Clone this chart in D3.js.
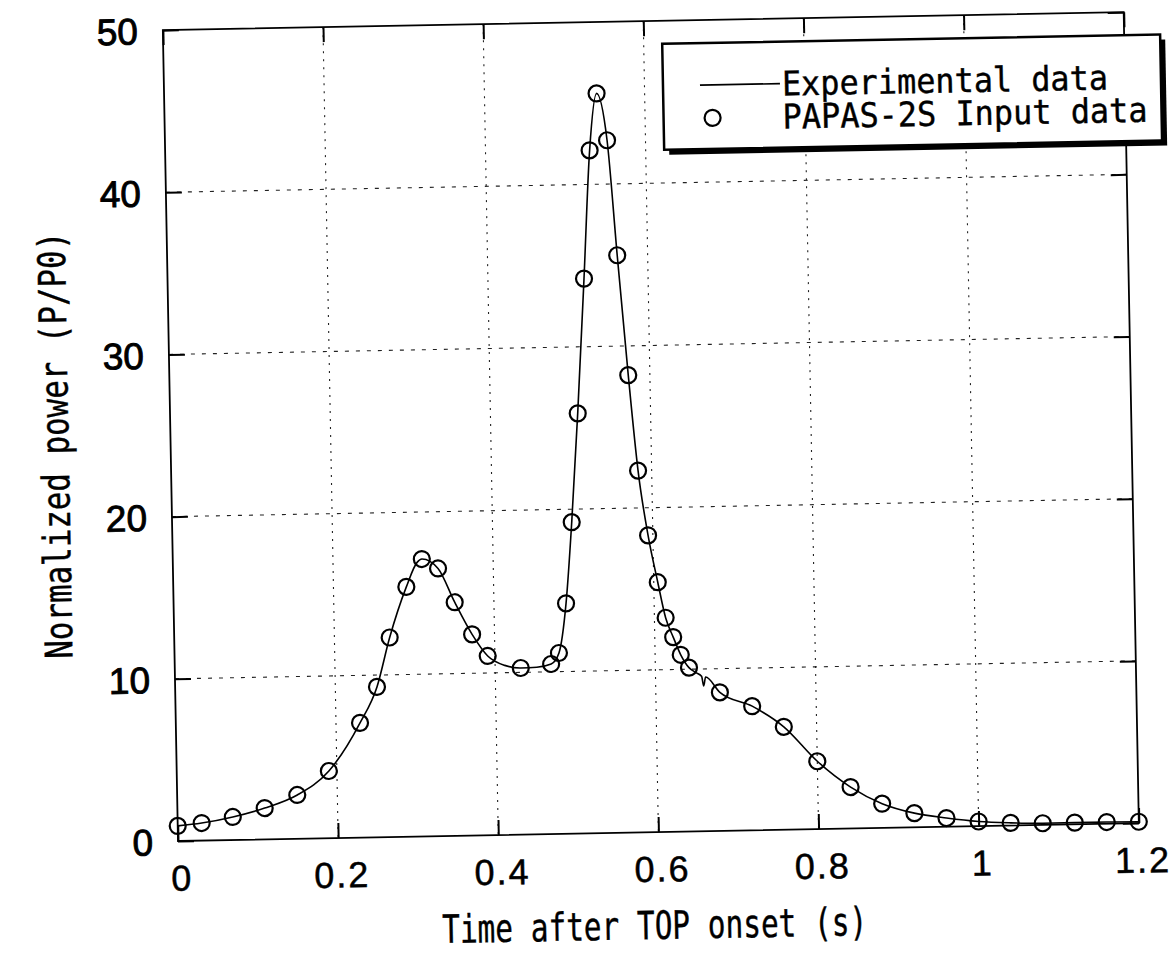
<!DOCTYPE html>
<html>
<head>
<meta charset="utf-8">
<script src="https://cdn.jsdelivr.net/npm/d3@7"></script>
<style>
  html, body { margin: 0; padding: 0; background: #fff; }
  svg { display: block; }
</style>
</head>
<body>
<svg id="chart" width="1173" height="974"></svg>
<script>
// ---------------- data ----------------
const xTicks = [0, 0.2, 0.4, 0.6, 0.8, 1.0, 1.2];
const xTickLabels = ["0", "0.2", "0.4", "0.6", "0.8", "1", "1.2"];
const yTicks = [0, 10, 20, 30, 40, 50];
const yTickLabels = ["0", "10", "20", "30", "40", "50"];

// PAPAS-2S input data (circles)
const inputT = [0, 0.030, 0.069, 0.109, 0.150, 0.190, 0.230, 0.252, 0.269, 0.291, 0.311, 0.331, 0.351, 0.372, 0.391,
  0.432, 0.470, 0.480, 0.490, 0.499, 0.509, 0.520, 0.530, 0.540, 0.552, 0.562, 0.573, 0.583, 0.594, 0.605, 0.614,
  0.623, 0.632, 0.642, 0.680, 0.720, 0.759, 0.800, 0.841, 0.880, 0.920, 0.960, 1.000, 1.040, 1.080, 1.120, 1.160, 1.200];
const inputP = [0.93, 1.08, 1.42, 1.93, 2.70, 4.14, 7.07, 9.27, 12.3, 15.4, 17.1, 16.5, 14.4, 12.4, 11.05,
  10.27, 10.48, 11.15, 14.2, 19.2, 25.9, 34.2, 42.1, 45.6, 42.7, 35.6, 28.2, 22.3, 18.3, 15.4, 13.2,
  12.0, 10.9, 10.1, 8.54, 7.65, 6.34, 4.18, 2.55, 1.49, 0.87, 0.53, 0.28, 0.16, 0.10, 0.10, 0.10, 0.08];

// Experimental data (solid line)
const expT = [0, 0.030, 0.069, 0.109, 0.150, 0.190, 0.230, 0.252, 0.269, 0.291, 0.305, 0.311, 0.331, 0.351, 0.372, 0.391,
  0.412, 0.432, 0.452, 0.470, 0.480, 0.490, 0.499, 0.509, 0.520, 0.530, 0.540, 0.552, 0.562, 0.573, 0.583, 0.594, 0.605, 0.614,
  0.623, 0.632, 0.642, 0.650, 0.6575, 0.660, 0.6625, 0.680, 0.720, 0.759, 0.800, 0.841, 0.880, 0.920, 0.960, 1.000, 1.040,
  1.080, 1.120, 1.160, 1.200];
const expP = [0.93, 1.08, 1.42, 1.93, 2.70, 4.14, 7.07, 9.27, 12.3, 15.4, 16.9, 17.1, 16.5, 14.4, 12.4, 11.05,
  10.45, 10.27, 10.30, 10.48, 11.15, 14.2, 19.2, 25.9, 34.2, 42.1, 45.6, 42.7, 35.6, 28.2, 22.3, 18.3, 15.4, 13.2,
  12.0, 10.9, 10.1, 9.8, 9.55, 8.95, 9.5, 8.54, 7.65, 6.34, 4.18, 2.55, 1.49, 0.87, 0.53, 0.28, 0.16,
  0.10, 0.10, 0.10, 0.08];

const legendLabels = ["Experimental data", "PAPAS-2S Input data"];
const xTitle = "Time after TOP onset (s)";
const yTitle = "Normalized power (P/P0)";

// ---------------- layout ----------------
const L = 178, B = 841, W = 961, H = 811, T = B - H;
const tilt = -1.07;  // scanned page is slightly rotated

const svg = d3.select("#chart");
svg.append("rect").attr("width", 1173).attr("height", 974).attr("fill", "#fff");
const root = svg.append("g").attr("transform", `rotate(${tilt},${L},${B})`);

const x = d3.scaleLinear().domain([0, 1.2]).range([L, L + W]);
const y = d3.scaleLinear().domain([0, 50]).range([B, T]);

// grid lines
const grid = root.append("g").attr("stroke", "#222").attr("stroke-width", 1.1).attr("fill", "none");
grid.selectAll("line.v").data(xTicks.slice(1, -1)).join("line")
  .attr("x1", d => x(d)).attr("x2", d => x(d)).attr("y1", T).attr("y2", B)
  .attr("stroke-dasharray", "2,6");
grid.selectAll("line.h").data(yTicks.slice(1, -1)).join("line")
  .attr("x1", L).attr("x2", L + W).attr("y1", d => y(d)).attr("y2", d => y(d))
  .attr("stroke-dasharray", "4,7");

// axes (inward ticks)
const fmtX = d => xTickLabels[xTicks.indexOf(d)];
const fmtY = d => yTickLabels[yTicks.indexOf(d)];

const gx = root.append("g").attr("transform", `translate(0,${B})`)
  .call(d3.axisBottom(x).tickValues(xTicks).tickFormat(fmtX).tickSizeInner(-15).tickSizeOuter(0).tickPadding(24));
const gxt = root.append("g").attr("transform", `translate(0,${T})`)
  .call(d3.axisTop(x).tickValues(xTicks).tickFormat("").tickSizeInner(-15).tickSizeOuter(0));
const gy = root.append("g").attr("transform", `translate(${L},0)`)
  .call(d3.axisLeft(y).tickValues(yTicks).tickFormat(fmtY).tickSizeInner(-16).tickSizeOuter(0).tickPadding(25));
const gyr = root.append("g").attr("transform", `translate(${L + W},0)`)
  .call(d3.axisRight(y).tickValues(yTicks).tickFormat("").tickSizeInner(-16).tickSizeOuter(0));

[gx, gxt, gy, gyr].forEach(g => {
  g.select(".domain").remove();
  g.selectAll(".tick line").attr("stroke", "#000").attr("stroke-width", 2);
});
gx.selectAll(".tick text")
  .attr("fill", "#000").attr("font-family", "'Liberation Sans', Arial, sans-serif")
  .attr("font-size", 36).attr("letter-spacing", 2).attr("dx", 3)
  .attr("stroke", "#000").attr("stroke-width", 0.5);
gy.selectAll(".tick text")
  .attr("fill", "#000").attr("font-family", "'Liberation Sans', Arial, sans-serif")
  .attr("font-size", 37).attr("dy", "0.36em")
  .attr("stroke", "#000").attr("stroke-width", 0.9);

// frame
root.append("rect").attr("x", L).attr("y", T).attr("width", W).attr("height", H)
  .attr("fill", "none").attr("stroke", "#000").attr("stroke-width", 1.8);

// experimental line
const pts = expT.map((t, i) => [t, expP[i]]);
root.append("path").datum(pts)
  .attr("fill", "none").attr("stroke", "#000").attr("stroke-width", 1.6)
  .attr("d", d3.line().x(d => x(d[0])).y(d => y(d[1])).curve(d3.curveMonotoneX));

// input data circles
root.append("g").selectAll("circle").data(inputT.map((t, i) => [t, inputP[i]])).join("circle")
  .attr("cx", d => x(d[0])).attr("cy", d => y(d[1])).attr("r", 8)
  .attr("fill", "none").attr("stroke", "#000").attr("stroke-width", 2.2);

// axis titles
const monoFont = "'DejaVu Sans Mono', 'Liberation Mono', monospace";
root.append("text").attr("x", 653).attr("y", 948).attr("text-anchor", "middle")
  .attr("font-family", monoFont).attr("font-size", 39)
  .attr("textLength", 425).attr("lengthAdjust", "spacingAndGlyphs")
  .attr("fill", "#000").attr("stroke", "#000").attr("stroke-width", 0.4)
  .text(xTitle);
root.append("text").attr("transform", "translate(76,443) rotate(-90)").attr("text-anchor", "middle")
  .attr("font-family", monoFont).attr("font-size", 38)
  .attr("textLength", 427).attr("lengthAdjust", "spacingAndGlyphs")
  .attr("fill", "#000").attr("stroke", "#000").attr("stroke-width", 0.4)
  .text(yTitle);

// legend
const lg = root.append("g");
const lx = 677, ly = 53, lw = 498, lh = 106;
lg.append("rect").attr("x", lx + 5).attr("y", ly + 5).attr("width", lw).attr("height", lh).attr("fill", "#000");
lg.append("rect").attr("x", lx).attr("y", ly).attr("width", lw).attr("height", lh)
  .attr("fill", "#fff").attr("stroke", "#000").attr("stroke-width", 2.5);
lg.append("line").attr("x1", 714).attr("x2", 794).attr("y1", 95).attr("y2", 95)
  .attr("stroke", "#000").attr("stroke-width", 1.6);
lg.append("circle").attr("cx", 726).attr("cy", 128).attr("r", 8)
  .attr("fill", "none").attr("stroke", "#000").attr("stroke-width", 2.2);
const legW = [326, 365];
lg.selectAll("text").data(legendLabels).join("text")
  .attr("x", 796).attr("y", (d, i) => 107 + i * 33)
  .attr("font-family", monoFont).attr("font-size", 34)
  .attr("textLength", (d, i) => legW[i]).attr("lengthAdjust", "spacingAndGlyphs")
  .attr("fill", "#000").attr("stroke", "#000").attr("stroke-width", 0.4)
  .text(d => d);
</script>
</body>
</html>
